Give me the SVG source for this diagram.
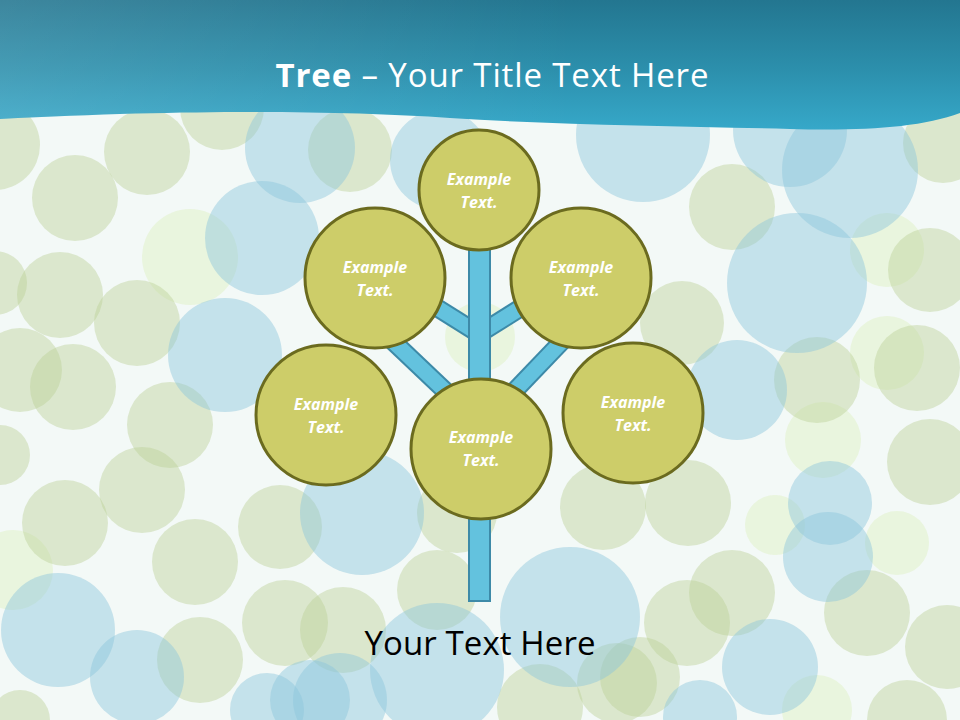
<svg xmlns="http://www.w3.org/2000/svg" width="960" height="720" viewBox="0 0 960 720">
<defs>
<linearGradient id="hdr" x1="0" y1="0" x2="0" y2="1">
<stop offset="0" stop-color="#237690"/>
<stop offset="0.55" stop-color="#2c90ad"/>
<stop offset="1" stop-color="#36a8c9"/>
</linearGradient>
<linearGradient id="hdrH" x1="0" y1="0" x2="1" y2="0">
<stop offset="0" stop-color="#ffffff" stop-opacity="0.12"/>
<stop offset="0.6" stop-color="#ffffff" stop-opacity="0"/>
</linearGradient>
<style>
.g{fill:#b9cf94;fill-opacity:0.42}
.b{fill:#8cc6dc;fill-opacity:0.45}
.l{fill:#d6eeae;fill-opacity:0.35}
.node{fill:#cdcd69;stroke:#6b6b1f;stroke-width:3}
.nt{font-family:"Open Sans","Liberation Sans",sans-serif;font-size:16px;font-weight:bold;font-style:italic;fill:#ffffff;text-anchor:middle}
.brO{stroke:#3d8aa8;stroke-width:19;fill:none}
.brI{stroke:#63c2de;stroke-width:15;fill:none}
</style>
</defs>
<rect x="0" y="0" width="960" height="720" fill="#f3f9f7"/>
<g id="bubbles">
<circle class="l" cx="190" cy="257" r="48"/>
<circle class="l" cx="887" cy="250" r="37"/>
<circle class="l" cx="887" cy="353" r="37"/>
<circle class="l" cx="823" cy="440" r="38"/>
<circle class="l" cx="775" cy="525" r="30"/>
<circle class="l" cx="897" cy="543" r="32"/>
<circle class="l" cx="817" cy="710" r="35"/>
<circle class="l" cx="13" cy="570" r="40"/>
<circle class="l" cx="480" cy="337" r="35"/>
<circle class="g" cx="-5" cy="145" r="45"/>
<circle class="g" cx="75" cy="198" r="43"/>
<circle class="g" cx="147" cy="152" r="43"/>
<circle class="g" cx="222" cy="108" r="42"/>
<circle class="g" cx="60" cy="295" r="43"/>
<circle class="g" cx="137" cy="323" r="43"/>
<circle class="g" cx="-5" cy="283" r="32"/>
<circle class="g" cx="20" cy="370" r="42"/>
<circle class="g" cx="73" cy="387" r="43"/>
<circle class="g" cx="0" cy="455" r="30"/>
<circle class="g" cx="170" cy="425" r="43"/>
<circle class="g" cx="142" cy="490" r="43"/>
<circle class="g" cx="65" cy="523" r="43"/>
<circle class="g" cx="195" cy="562" r="43"/>
<circle class="g" cx="280" cy="527" r="42"/>
<circle class="g" cx="285" cy="623" r="43"/>
<circle class="g" cx="200" cy="660" r="43"/>
<circle class="g" cx="20" cy="720" r="30"/>
<circle class="g" cx="943" cy="143" r="40"/>
<circle class="g" cx="732" cy="207" r="43"/>
<circle class="g" cx="930" cy="270" r="42"/>
<circle class="g" cx="682" cy="323" r="42"/>
<circle class="g" cx="817" cy="380" r="43"/>
<circle class="g" cx="917" cy="368" r="43"/>
<circle class="g" cx="688" cy="503" r="43"/>
<circle class="g" cx="930" cy="462" r="43"/>
<circle class="g" cx="732" cy="593" r="43"/>
<circle class="g" cx="687" cy="623" r="43"/>
<circle class="g" cx="867" cy="613" r="43"/>
<circle class="g" cx="947" cy="647" r="42"/>
<circle class="g" cx="907" cy="720" r="40"/>
<circle class="g" cx="437" cy="590" r="40"/>
<circle class="g" cx="540" cy="707" r="43"/>
<circle class="g" cx="617" cy="683" r="40"/>
<circle class="g" cx="343" cy="630" r="43"/>
<circle class="g" cx="640" cy="677" r="40"/>
<circle class="g" cx="603" cy="507" r="43"/>
<circle class="g" cx="457" cy="513" r="40"/>
<circle class="g" cx="350" cy="150" r="42"/>
<circle class="b" cx="300" cy="148" r="55"/>
<circle class="b" cx="262" cy="238" r="57"/>
<circle class="b" cx="225" cy="355" r="57"/>
<circle class="b" cx="58" cy="630" r="57"/>
<circle class="b" cx="137" cy="677" r="47"/>
<circle class="b" cx="362" cy="513" r="62"/>
<circle class="b" cx="267" cy="710" r="37"/>
<circle class="b" cx="310" cy="700" r="40"/>
<circle class="b" cx="643" cy="135" r="67"/>
<circle class="b" cx="790" cy="130" r="57"/>
<circle class="b" cx="850" cy="170" r="68"/>
<circle class="b" cx="797" cy="283" r="70"/>
<circle class="b" cx="737" cy="390" r="50"/>
<circle class="b" cx="830" cy="503" r="42"/>
<circle class="b" cx="828" cy="557" r="45"/>
<circle class="b" cx="770" cy="667" r="48"/>
<circle class="b" cx="700" cy="717" r="37"/>
<circle class="b" cx="437" cy="670" r="67"/>
<circle class="b" cx="570" cy="617" r="70"/>
<circle class="b" cx="340" cy="700" r="47"/>
<circle class="b" cx="440" cy="160" r="50"/>
</g>
<g id="header">
<path d="M0,0 H960 V113 C920,128 860,131 790,129 C680,126 560,125 450,118 C340,111 200,109 0,119 Z" fill="url(#hdr)"/>
<path d="M0,0 H960 V113 C920,128 860,131 790,129 C680,126 560,125 450,118 C340,111 200,109 0,119 Z" fill="url(#hdrH)"/>
<text x="492" y="87" font-family="'Open Sans','Liberation Sans',sans-serif" font-size="33" fill="#ffffff" text-anchor="middle" textLength="433" lengthAdjust="spacing"><tspan font-weight="bold">Tree</tspan> – Your Title Text Here</text>
</g>
<g id="connectors">
<line class="brO" x1="479" y1="334" x2="420" y2="297"/>
<line class="brI" x1="479" y1="334" x2="420" y2="297"/>
<line class="brO" x1="479" y1="334" x2="538" y2="297"/>
<line class="brI" x1="479" y1="334" x2="538" y2="297"/>
<line class="brO" x1="479" y1="423" x2="380" y2="329"/>
<line class="brI" x1="479" y1="423" x2="380" y2="329"/>
<line class="brO" x1="479" y1="428" x2="570" y2="333"/>
<line class="brI" x1="479" y1="428" x2="570" y2="333"/>
<rect id="trunk" x="469" y="240" width="21" height="361" fill="#63c2de" stroke="#3d8aa8" stroke-width="2"/>
</g>
<g id="node-top"><circle class="node" cx="479" cy="190" r="60"/><text class="nt" x="479" y="185">Example</text><text class="nt" x="479" y="208">Text.</text></g>
<g id="node-upper-left"><circle class="node" cx="375" cy="278" r="70"/><text class="nt" x="375" y="273">Example</text><text class="nt" x="375" y="296">Text.</text></g>
<g id="node-upper-right"><circle class="node" cx="581" cy="278" r="70"/><text class="nt" x="581" y="273">Example</text><text class="nt" x="581" y="296">Text.</text></g>
<g id="node-left"><circle class="node" cx="326" cy="415" r="70"/><text class="nt" x="326" y="410">Example</text><text class="nt" x="326" y="433">Text.</text></g>
<g id="node-right"><circle class="node" cx="633" cy="413" r="70"/><text class="nt" x="633" y="408">Example</text><text class="nt" x="633" y="431">Text.</text></g>
<g id="node-bottom"><circle class="node" cx="481" cy="449" r="70"/><text class="nt" x="481" y="443">Example</text><text class="nt" x="481" y="466">Text.</text></g>
<text x="480" y="655" font-family="'Open Sans','Liberation Sans',sans-serif" font-size="33" fill="#000000" text-anchor="middle" textLength="231" lengthAdjust="spacing">Your Text Here</text>
</svg>
